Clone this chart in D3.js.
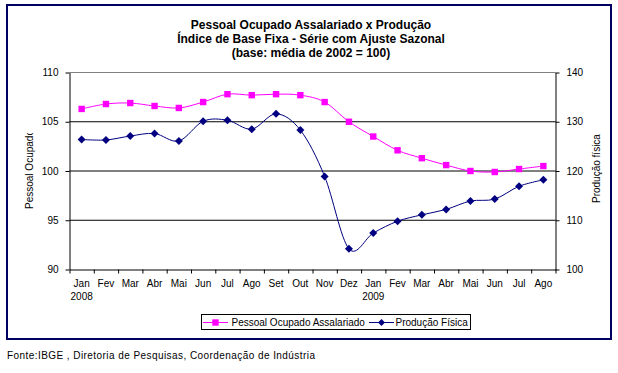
<!DOCTYPE html>
<html><head><meta charset="utf-8">
<script src="https://cdn.jsdelivr.net/npm/d3@7"></script>
<style>body{margin:0;background:#fff} svg{display:block} text{font-family:"Liberation Sans",Arial,sans-serif;fill:#000}</style>
</head><body><svg id="c" width="618" height="373"></svg>
<script>
const titleLines = ["Pessoal Ocupado Assalariado x Produção","Índice de Base Fixa - Série com Ajuste Sazonal","(base: média de 2002 = 100)"];
const months = ["Jan","Fev","Mar","Abr","Mai","Jun","Jul","Ago","Set","Out","Nov","Dez","Jan","Fev","Mar","Abr","Mai","Jun","Jul","Ago"];
const years = [{label:"2008", index:0},{label:"2009", index:12}];
const pessoal = [106.3,106.8,106.9,106.6,106.4,107.0,107.8,107.7,107.8,107.7,107.0,105.0,103.5,102.1,101.3,100.6,100.0,99.9,100.2,100.5];
const producao = [126.4,126.3,127.1,127.6,126.1,130.1,130.3,128.5,131.6,128.3,118.9,104.2,107.4,109.8,111.1,112.2,113.9,114.3,116.9,118.2];
const leftTicks = [90,95,100,105,110];
const rightTicks = [100,110,120,130,140];
const seriesNames = ["Pessoal Ocupado Assalariado","Produção Física"];

const svg = d3.select("#c");
const L = 69.5, R = 555.5, T = 72.5, B = 269.5;
const pink = "#FF00FF", navy = "#000080";

const x = d3.scaleBand().domain(d3.range(months.length)).range([L, R]);
const xb = d3.scaleLinear().domain([0, months.length]).range([L, R]);
const yL = d3.scaleLinear().domain([90,110]).range([B, T]);
const yR = d3.scaleLinear().domain([100,140]).range([B, T]);
const cx = i => x(i) + x.bandwidth()/2;

svg.append("rect").attr("width",618).attr("height",373).attr("fill","#fff");
// outer border
svg.append("rect").attr("x",7).attr("y",5).attr("width",604).attr("height",334)
  .attr("fill","none").attr("stroke","#000060").attr("stroke-width",2);

// title
svg.append("g").selectAll("text").data(titleLines).join("text")
  .attr("x",311).attr("y",(d,i)=>29+i*14.2).attr("text-anchor","middle")
  .attr("font-size",12).attr("font-weight","bold").text(d=>d);

// gridlines
svg.append("g").selectAll("line").data(leftTicks.filter(v=>v>90&&v<110)).join("line")
  .attr("x1",L).attr("x2",R).attr("y1",d=>yL(d)).attr("y2",d=>yL(d))
  .attr("stroke","#000").attr("stroke-width",1);
svg.append("line").attr("x1",L).attr("x2",R).attr("y1",T).attr("y2",T).attr("stroke","#808080");

// axes
const axL = svg.append("g").attr("transform",`translate(${L},0)`)
  .call(d3.axisLeft(yL).tickValues(leftTicks).tickSize(4).tickSizeOuter(0).tickPadding(7));
const axR = svg.append("g").attr("transform",`translate(${R},0)`)
  .call(d3.axisRight(yR).tickValues(rightTicks).tickSize(4).tickSizeOuter(0).tickPadding(7));
const axB = svg.append("g").attr("transform",`translate(0,${B})`)
  .call(d3.axisBottom(xb).tickValues(d3.range(months.length+1)).tickSize(4).tickSizeOuter(0).tickFormat(""));
[axL,axR,axB].forEach(g=>{
  g.selectAll("path").attr("stroke","#000");
  g.selectAll("line").attr("stroke","#000");
  g.selectAll("text").attr("font-size",10).attr("font-family",'"Liberation Sans",Arial,sans-serif').attr("fill","#000");
});

// month labels
svg.append("g").selectAll("text").data(months).join("text")
  .attr("x",(d,i)=>cx(i)).attr("y",286.5).attr("text-anchor","middle").attr("font-size",10).text(d=>d);
svg.append("g").selectAll("text").data(years).join("text")
  .attr("x",d=>cx(d.index)).attr("y",299.5).attr("text-anchor","middle").attr("font-size",10).text(d=>d.label);

// axis titles
svg.append("clipPath").attr("id","lc").append("rect").attr("x",0).attr("y",133).attr("width",60).attr("height",120);
svg.append("g").attr("clip-path","url(#lc)").append("text")
  .attr("transform","translate(33,209) rotate(-90)").attr("font-size",10).text("Pessoal Ocupado");
svg.append("text").attr("transform","translate(599.5,203) rotate(-90)").attr("font-size",10).text("Produção física");

// lines
const lineL = d3.line().x((d,i)=>cx(i)).y(d=>yL(d)).curve(d3.curveCardinal.tension(0));
const lineR = d3.line().x((d,i)=>cx(i)).y(d=>yR(d)).curve(d3.curveCardinal.tension(0));
svg.append("path").datum(pessoal).attr("d",lineL).attr("fill","none").attr("stroke",pink).attr("stroke-width",1);
svg.append("path").datum(producao).attr("d",lineR).attr("fill","none").attr("stroke",navy).attr("stroke-width",1);

const sq = 3.2, dm = 4;
svg.append("g").selectAll("rect").data(pessoal).join("rect")
  .attr("x",(d,i)=>cx(i)-sq).attr("y",d=>yL(d)-sq).attr("width",sq*2).attr("height",sq*2).attr("fill",pink);
const diamond = `M0,${-dm}L${dm},0L0,${dm}L${-dm},0Z`;
svg.append("g").selectAll("path").data(producao).join("path")
  .attr("transform",(d,i)=>`translate(${cx(i)},${yR(d)})`).attr("d",diamond).attr("fill",navy);

// legend
const lg = svg.append("g");
lg.append("rect").attr("x",201.5).attr("y",314.5).attr("width",269).attr("height",15).attr("fill","#fff").attr("stroke","#000");
const items = [{name:seriesNames[0], c:pink, x0:203, t:231.5, sym:"sq"},{name:seriesNames[1], c:navy, x0:369, t:395.5, sym:"dm"}];
items.forEach(it=>{
  lg.append("line").attr("x1",it.x0).attr("x2",it.x0+25).attr("y1",322.5).attr("y2",322.5).attr("stroke",it.c);
  const mx = it.x0+12.5;
  if(it.sym==="sq") lg.append("rect").attr("x",mx-sq).attr("y",322.5-sq).attr("width",sq*2).attr("height",sq*2).attr("fill",it.c);
  else lg.append("path").attr("transform",`translate(${mx},322.5)`).attr("d",`M0,-3.5L3.5,0L0,3.5L-3.5,0Z`).attr("fill",it.c);
  lg.append("text").attr("x",it.t).attr("y",326).attr("font-size",10).text(it.name);
});

// source
svg.append("text").attr("x",7).attr("y",359).attr("font-size",10).attr("textLength",308).attr("lengthAdjust","spacing")
  .text("Fonte:IBGE , Diretoria de Pesquisas, Coordenação de Indústria");
</script></body></html>
